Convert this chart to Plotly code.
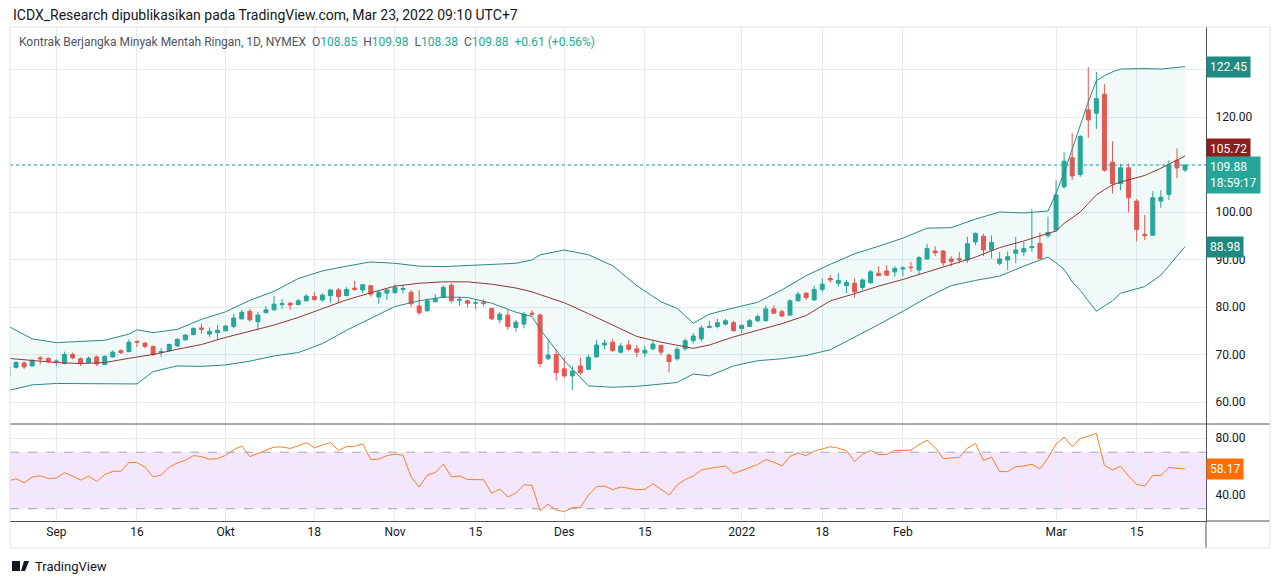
import pandas as pd
import plotly.graph_objects as go

# NYMEX sessions with no daily bar on the chart
holidays = ['2021-09-06', '2021-11-25', '2021-12-24', '2022-01-17', '2022-02-21']
dates = pd.bdate_range('2021-08-24', '2022-03-23', freq='C',
                       holidays=holidays).strftime('%Y-%m-%d').tolist()

# daily OHLC (Aug 24 2021 .. Mar 23 2022)
opens = [65.4, 67.3, 68.2, 67.6, 69.3, 69.2, 68.5, 68.1, 70.0, 69.1,
         68.3, 69.5, 67.9, 69.5, 70.8, 70.6, 72.75, 72.4, 71.7, 70.4,
         70.8, 71.8, 73.1, 74.2, 75.6, 74.3, 74.6, 75.0, 75.9, 77.5,
         79.1, 76.9, 78.8, 79.4, 80.5, 80.8, 80.5, 81.3, 82.2, 81.5,
         82.4, 83.6, 82.4, 84.0, 83.6, 84.5, 82.1, 82.9, 83.0, 83.7,
         83.1, 80.2, 79.2, 81.1, 82.0, 84.6, 81.4, 81.3, 80.8, 81.0,
         79.7, 77.3, 78.3, 75.7, 76.4, 78.7, 78.3, 69.1, 70.0, 67.0,
         65.5, 67.6, 66.9, 69.5, 72.0, 72.6, 70.5, 72.0, 71.2, 70.3,
         71.2, 71.9, 69.9, 69.1, 71.2, 72.9, 73.3, 75.7, 75.9, 76.4,
         76.7, 75.5, 75.9, 77.1, 77.1, 79.6, 79.0, 78.3, 81.3, 82.9,
         81.5, 83.7, 86.0, 85.0, 84.5, 85.0, 84.1, 85.1, 87.1, 87.6,
         87.4, 88.0, 88.4, 87.8, 90.1, 91.8, 91.8, 90.1, 90.2, 89.9,
         93.7, 94.9, 92.0, 89.2, 89.9, 91.3, 91.6, 92.5, 93.4, 95.0,
         96.2, 105.3, 111.4, 107.9, 121.5, 120.8, 124.8, 110.5, 106.0, 109.3,
         102.3, 95.3, 95.1, 102.3, 103.7, 110.9, 108.85]
highs = [67.6, 68.6, 68.6, 68.9, 69.7, 69.4, 69.0, 70.6, 70.4, 69.4,
         69.6, 69.8, 69.8, 70.9, 71.1, 73.2, 73.0, 72.6, 71.9, 71.4,
         72.3, 73.4, 74.2, 75.7, 76.5, 75.7, 76.2, 76.2, 78.5, 79.5,
         79.6, 79.0, 80.2, 82.3, 81.7, 81.1, 81.7, 82.7, 83.1, 82.9,
         83.8, 84.0, 84.2, 85.5, 84.8, 84.6, 83.4, 83.7, 84.8, 84.6,
         83.6, 83.6, 81.8, 82.7, 84.6, 85.0, 82.2, 81.6, 81.6, 81.6,
         79.8, 79.0, 79.4, 77.3, 79.0, 79.4, 78.7, 73.0, 71.1, 69.4,
         67.6, 69.3, 70.0, 73.1, 73.1, 73.3, 72.4, 73.0, 72.0, 71.8,
         72.9, 72.1, 70.2, 71.6, 73.4, 74.5, 76.2, 77.1, 77.5, 77.5,
         77.1, 76.4, 77.5, 78.4, 80.3, 80.4, 79.4, 81.6, 83.2, 83.1,
         84.5, 86.0, 86.7, 87.1, 85.7, 86.0, 86.0, 87.8, 88.6, 88.8,
         88.6, 88.6, 89.5, 90.7, 93.3, 92.8, 92.0, 90.7, 91.6, 94.8,
         95.7, 95.4, 95.1, 91.6, 91.7, 94.8, 93.7, 100.6, 95.7, 99.0,
         106.7, 112.6, 116.6, 116.2, 130.5, 129.5, 126.9, 114.9, 110.2, 110.2,
         102.7, 99.4, 104.4, 104.6, 110.9, 113.4, 109.98]
lows = [65.1, 67.0, 67.0, 67.4, 67.9, 68.2, 67.6, 67.9, 69.0, 67.6,
        68.2, 67.6, 67.8, 69.4, 70.1, 70.5, 71.6, 71.3, 69.7, 69.5,
        70.6, 71.6, 72.9, 74.0, 74.4, 73.7, 73.1, 74.9, 75.5, 77.4,
        76.9, 75.0, 78.7, 79.3, 79.6, 79.4, 80.4, 81.2, 81.3, 81.1,
        80.9, 80.9, 82.3, 83.4, 82.9, 82.2, 80.7, 81.5, 82.9, 82.9,
        79.9, 78.3, 79.0, 81.0, 81.9, 80.9, 80.3, 79.9, 79.5, 80.1,
        77.3, 76.6, 75.2, 74.8, 75.5, 78.1, 67.4, 68.8, 64.5, 65.0,
        62.5, 65.7, 66.7, 69.4, 71.1, 70.6, 70.2, 70.8, 69.5, 69.5,
        70.9, 69.8, 66.2, 68.7, 70.8, 72.3, 72.7, 75.5, 75.5, 76.1,
        74.9, 74.5, 75.8, 76.8, 77.0, 78.6, 77.9, 78.2, 81.2, 81.5,
        81.3, 83.2, 85.1, 84.3, 82.9, 82.0, 83.6, 84.9, 86.5, 86.5,
        86.4, 86.5, 87.4, 86.7, 90.0, 90.7, 88.6, 88.5, 89.2, 89.3,
        93.0, 90.7, 90.2, 88.8, 87.8, 89.2, 90.7, 91.6, 90.1, 94.6,
        95.8, 105.0, 106.7, 107.4, 115.6, 117.5, 108.5, 103.9, 104.6, 99.9,
        93.8, 94.1, 95.0, 100.9, 102.5, 107.1, 108.38]
closes = [67.4, 68.3, 67.4, 68.8, 69.1, 68.5, 68.6, 70.0, 69.3, 68.2,
          69.2, 68.0, 69.6, 70.5, 70.4, 72.6, 72.6, 71.7, 70.0, 70.6,
          72.1, 73.2, 74.1, 75.5, 75.3, 74.9, 75.1, 76.0, 77.7, 78.9,
          77.3, 78.3, 79.4, 80.6, 80.7, 80.4, 81.3, 82.3, 81.6, 82.5,
          83.6, 82.2, 83.7, 83.7, 84.7, 82.7, 83.1, 83.6, 84.1, 83.9,
          80.7, 78.8, 81.3, 81.8, 84.1, 81.3, 81.6, 80.8, 80.9, 80.8,
          77.5, 78.5, 75.9, 76.8, 78.5, 78.5, 68.1, 69.9, 66.2, 65.5,
          66.5, 66.2, 69.4, 72.0, 72.4, 70.8, 71.8, 71.1, 70.5, 70.9,
          72.2, 70.5, 68.5, 71.1, 72.9, 73.9, 75.6, 75.9, 76.7, 77.1,
          75.0, 76.1, 77.1, 78.0, 79.6, 78.7, 78.1, 81.3, 82.7, 82.0,
          83.7, 84.8, 85.7, 85.6, 85.2, 83.2, 85.7, 87.4, 86.6, 86.7,
          88.1, 88.2, 88.3, 90.4, 92.3, 91.4, 89.3, 89.6, 89.9, 93.3,
          95.5, 92.0, 93.6, 90.1, 90.6, 92.0, 92.3, 92.7, 90.2, 95.7,
          103.6, 110.7, 107.6, 115.9, 119.4, 123.9, 108.8, 106.0, 109.3, 103.0,
          96.3, 95.0, 103.0, 103.1, 109.9, 109.27, 109.88]

# Bollinger Bands (20, 2) read at selected bars
band_bars = [0, 3, 6, 9, 12, 15, 16, 18, 21, 24, 27, 30, 33, 36, 39, 42, 45, 48,
             51, 54, 57, 60, 63, 65, 66, 69, 72, 75, 78, 81, 83, 85, 87, 90, 93,
             96, 99, 102, 105, 108, 111, 114, 117, 120, 123, 126, 129, 130, 131,
             132, 133, 134, 135, 136, 137, 138, 141, 143, 146]
bb_upper = [76.0, 73.3, 72.5, 72.8, 73.0, 74.3, 75.2, 74.6, 75.3, 77.4, 79.0, 81.4,
            83.3, 86.0, 87.6, 88.6, 89.5, 89.2, 88.6, 88.5, 88.7, 89.0, 89.2, 89.9,
            91.0, 92.0, 91.0, 88.7, 84.5, 81.1, 79.7, 76.6, 78.5, 79.8, 81.0, 83.6,
            86.6, 89.0, 91.2, 92.8, 94.5, 96.6, 96.7, 98.5, 100.0, 99.8, 100.2,
            103.9, 108.3, 113.2, 118.3, 123.2, 127.6, 128.7, 129.5, 130.1, 130.2,
            130.1, 130.6]
bb_basis = [69.2, 68.8, 68.3, 68.1, 68.3, 69.2, 69.5, 70.0, 71.1, 72.1, 73.6, 74.9,
            76.2, 77.8, 79.6, 81.5, 83.0, 84.4, 85.0, 85.3, 85.3, 84.8, 84.0, 83.2,
            82.6, 80.9, 78.6, 76.2, 73.8, 72.6, 72.0, 71.3, 72.0, 73.7, 75.1, 76.5,
            78.2, 81.3, 82.8, 84.4, 85.8, 87.4, 89.0, 90.5, 92.5, 93.9, 95.5,
            96.0, 97.6, 98.8, 100.0, 101.8, 103.6, 104.7, 105.7, 106.3, 107.7,
            109.2, 111.8]
bb_lower = [62.4, 63.6, 63.9, 63.9, 63.8, 63.8, 63.8, 66.4, 67.6, 67.5, 67.8, 68.6,
            69.7, 70.4, 72.3, 75.1, 77.6, 80.1, 81.3, 82.1, 82.0, 80.8, 78.9, 78.0,
            75.3, 68.7, 63.4, 63.1, 63.3, 63.8, 64.1, 65.9, 65.5, 67.6, 68.7, 69.1,
            69.8, 71.0, 73.6, 76.3, 79.1, 82.0, 84.5, 85.6, 86.5, 88.6, 90.5,
            89.3, 87.9, 85.3, 83.5, 81.3, 79.1, 80.2, 81.3, 82.9, 84.3,
            86.7, 92.7]
band_dates = [dates[i] for i in band_bars]

# RSI (14) read per bar
rsi = [49.6, 51.2, 48.4, 52.4, 53.3, 51.4, 51.7, 55.6, 53.1, 50.3,
       53.1, 49.3, 54.2, 56.4, 56.6, 62.7, 62.7, 59.4, 52.6, 53.8,
       59.4, 62.4, 64.3, 67.6, 66.9, 65.0, 65.5, 67.8, 71.8, 74.4,
       66.9, 69.0, 71.1, 73.7, 73.7, 72.7, 74.6, 76.7, 73.2, 74.8,
       76.9, 71.3, 74.1, 74.1, 76.0, 64.8, 65.2, 67.6, 68.7, 67.8,
       52.6, 45.4, 53.8, 55.6, 61.7, 52.6, 53.1, 50.7, 50.7, 50.5,
       40.9, 44.0, 38.3, 41.1, 47.0, 46.5, 28.5, 33.2, 29.0, 28.0,
       30.8, 30.8, 39.7, 45.6, 46.1, 43.5, 45.4, 44.6, 43.5, 43.7,
       47.7, 43.7, 39.7, 46.8, 50.7, 53.1, 57.5, 58.5, 59.4, 60.3,
       54.9, 57.0, 59.4, 61.3, 64.8, 62.9, 60.3, 67.1, 69.4, 67.6,
       70.8, 72.3, 73.9, 72.9, 71.1, 63.4, 68.5, 71.3, 68.3, 68.5,
       71.3, 71.3, 71.6, 75.3, 78.6, 73.4, 65.5, 65.9, 66.4, 72.9,
       76.2, 64.1, 66.6, 56.3, 56.3, 59.8, 60.3, 61.5, 58.2, 65.9,
       75.8, 80.7, 74.1, 79.5, 81.4, 83.3, 60.6, 57.5, 60.1, 53.1,
       47.2, 46.1, 53.5, 53.5, 59.2, 58.7, 58.17]

# date axis labels
tick_dates = ['2021-09-01', '2021-09-16', '2021-10-01', '2021-10-18', '2021-11-01',
              '2021-11-15', '2021-12-01', '2021-12-15', '2022-01-03', '2022-01-18',
              '2022-02-01', '2022-03-01', '2022-03-15']
tick_text = ['Sep', '16', 'Okt', '18', 'Nov', '15', 'Des', '15', '2022', '18',
             'Feb', 'Mar', '15']

price_ticks = [60, 70, 80, 90, 100, 110, 120, 130]
price_text = ['60.00', '70.00', '80.00', '90.00', '100.00', '', '120.00', '']

UP = '#26a69a'
DOWN = '#ef5350'
BAND = '#2a8a84'
BASIS = '#8f3737'
GRID = '#e4ebf1'
TEXT = '#131722'
FONT = 'Roboto'

fig = go.Figure()

fig.add_trace(go.Scatter(x=band_dates, y=bb_upper, mode='lines',
                         line=dict(color=BAND, width=1), hoverinfo='skip'))
fig.add_trace(go.Scatter(x=band_dates, y=bb_lower, mode='lines', fill='tonexty',
                         fillcolor='rgba(38,166,154,0.06)',
                         line=dict(color=BAND, width=1), hoverinfo='skip'))
fig.add_trace(go.Scatter(x=band_dates, y=bb_basis, mode='lines',
                         line=dict(color=BASIS, width=1), hoverinfo='skip'))

fig.add_trace(go.Candlestick(
    x=dates, open=opens, high=highs, low=lows, close=closes,
    increasing=dict(line=dict(color=UP, width=1), fillcolor=UP),
    decreasing=dict(line=dict(color=DOWN, width=1), fillcolor=DOWN),
    whiskerwidth=0, hoverinfo='skip'))

fig.add_trace(go.Scatter(x=dates, y=rsi, mode='lines', yaxis='y2',
                         line=dict(color='#ff7f27', width=1), hoverinfo='skip'))

# plot area: x 10..1206 px, y 27..521 px
W, H = 1280, 584
L, R, T, B = 10, 1206, 27, 521
def px(x):
    return (x - L) / (R - L)
def py(y):
    return (B - y) / (B - T)

split = py(424)

fig.update_layout(
    width=W, height=H,
    margin=dict(l=L, r=W - R, t=T, b=H - B),
    paper_bgcolor='white', plot_bgcolor='white',
    showlegend=False,
    font=dict(family=FONT, size=12, color=TEXT),
    xaxis=dict(type='category', categoryorder='array', categoryarray=dates,
               range=[0.25, 148.6], anchor='y2',
               tickvals=tick_dates, ticktext=tick_text, ticks='',
               showgrid=True, gridcolor=GRID, gridwidth=1,
               showline=True, linecolor='#50535e', linewidth=1,
               rangeslider=dict(visible=False), fixedrange=True,
               tickfont=dict(size=12, color=TEXT)),
    yaxis=dict(domain=[split, 1], range=[55.37, 138.95], side='right',
               tickvals=price_ticks, ticktext=price_text, ticks='',
               showgrid=True, gridcolor=GRID, zeroline=False,
               showline=True, linecolor='#50535e', linewidth=1,
               ticklabelstandoff=6, tickfont=dict(size=12, color=TEXT)),
    yaxis2=dict(domain=[0, split], range=[21.3, 90.0], side='right', anchor='x',
                tickvals=[40, 60, 80], ticktext=['40.00', '', '80.00'], ticks='',
                showgrid=True, gridcolor=GRID, zeroline=False,
                showline=True, linecolor='#50535e', linewidth=1,
                ticklabelstandoff=6, tickfont=dict(size=12, color=TEXT)),
)

shapes = [
    # RSI 30-70 zone
    dict(type='rect', xref='x domain', yref='y2', x0=0, x1=1, y0=30, y1=70,
         fillcolor='#f4e6fc', line=dict(width=0), layer='below'),
    dict(type='line', xref='x domain', yref='y2', x0=0, x1=1, y0=70, y1=70,
         line=dict(color='#a3a6af', width=1, dash='dash')),
    dict(type='line', xref='x domain', yref='y2', x0=0, x1=1, y0=30, y1=30,
         line=dict(color='#a3a6af', width=1, dash='dash')),
    # last price line
    dict(type='line', xref='x domain', yref='y', x0=0, x1=1,
         y0=closes[-1], y1=closes[-1],
         line=dict(color=UP, width=1, dash='dot')),
    # pane separator
    dict(type='line', xref='paper', yref='paper', x0=0, x1=px(1270),
         y0=split, y1=split, line=dict(color='#50535e', width=1)),
    dict(type='line', xref='paper', yref='paper', x0=1, x1=px(1270),
         y0=0, y1=0, line=dict(color='#50535e', width=1)),
    dict(type='line', xref='paper', yref='paper', x0=1, x1=1,
         y0=py(548), y1=0, line=dict(color='#50535e', width=1)),
    # outer frame
    dict(type='rect', xref='paper', yref='paper', x0=0, x1=px(1270),
         y0=py(548), y1=1, line=dict(color='#e0e3eb', width=1)),
]
fig.update_layout(shapes=shapes)

chg = closes[-1] - closes[-2]
pct = chg / closes[-2] * 100
val = '<span style="color:#22ab94">{}</span>'
gray = '<span style="color:#50535e">{}</span>'
legend = (gray.format('Kontrak Berjangka Minyak Mentah Ringan, 1D, NYMEX&nbsp;&nbsp;O')
          + val.format(f'{opens[-1]:.2f}') + gray.format('&nbsp;&nbsp;H')
          + val.format(f'{highs[-1]:.2f}') + gray.format('&nbsp;&nbsp;L')
          + val.format(f'{lows[-1]:.2f}') + gray.format('&nbsp;&nbsp;C')
          + val.format(f'{closes[-1]:.2f}')
          + val.format(f'&nbsp;&nbsp;{chg:+.2f} ({pct:+.2f}%)'))

def axis_label(y, text, bg, yref='y', yanchor='middle', yshift=0):
    return dict(xref='paper', yref=yref, x=1, y=y, xanchor='left', yanchor=yanchor,
                yshift=yshift, text=text, showarrow=False, bgcolor=bg,
                borderpad=3, align='left',
                font=dict(family=FONT, size=12, color='white'))

annotations = [
    dict(xref='paper', yref='paper', x=px(11), y=py(15), xanchor='left',
         yanchor='middle', showarrow=False,
         text='ICDX_Research dipublikasikan pada TradingView.com, Mar 23, 2022 09:10 UTC+7',
         font=dict(family='Liberation Sans Narrow, Roboto', size=14, color=TEXT)),
    dict(xref='paper', yref='paper', x=px(17), y=py(42), xanchor='left',
         yanchor='middle', showarrow=False, text=legend,
         font=dict(family=FONT, size=12)),
    axis_label(bb_upper[-1], '122.45', '#1f8a80'),
    axis_label(113.3, '105.72', '#8a1f1f'),
    axis_label(closes[-1], f'{closes[-1]:.2f}<br>18:59:17', '#26a69a',
               yanchor='top', yshift=9),
    axis_label(bb_lower[-1], '88.98', '#1f8a80'),
    axis_label(rsi[-1], f'{rsi[-1]:.2f}', '#ff6d00', yref='y2'),
    dict(xref='paper', yref='paper', x=px(33), y=py(566), xanchor='left',
         yanchor='middle', showarrow=False, text='TradingView',
         font=dict(family=FONT, size=13, color=TEXT)),
]
fig.update_layout(annotations=annotations)

# small TradingView mark
fig.add_shape(type='rect', xref='paper', yref='paper', x0=px(12), x1=px(20),
              y0=py(571), y1=py(561), fillcolor=TEXT, line=dict(width=0))
fig.add_shape(type='path', xref='paper', yref='paper',
              path=f'M {px(21)},{py(571)} L {px(24)},{py(561)} L {px(29)},{py(561)} L {px(25)},{py(571)} Z',
              fillcolor=TEXT, line=dict(width=0))

fig.write_html('out.html', config=dict(displayModeBar=False),
               post_script="document.body.style.margin='0';")
